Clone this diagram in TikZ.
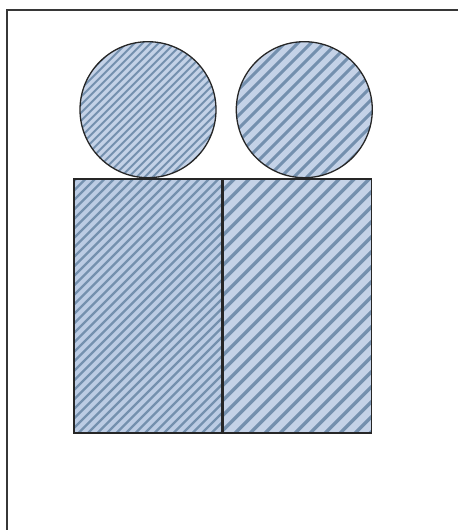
\documentclass[tikz,border=0pt]{standalone}
\usetikzlibrary{positioning}

\definecolor{hatchfill}{RGB}{196,210,231}
\definecolor{hatchfilldark}{RGB}{188,204,228}
\definecolor{hatchline}{RGB}{116,144,174}
\definecolor{framegray}{RGB}{55,55,55}

\tikzset{
  hatched/.style={path picture={
      \foreach \i in {-90,...,40}
        \draw[hatchline, line width=0.2*#1pt+0.3pt] (\i*#1,-200) -- ++(400,400);}},
  blob/.style={draw=black!85, line width=1.3pt, inner sep=0pt},
  box/.style={blob, rectangle, minimum width=148, minimum height=254},
  ball/.style={blob, circle, minimum size=136, fill=hatchfill},
}

\begin{document}
\begin{tikzpicture}[x=1pt, y=1pt]
  \useasboundingbox (0,0) rectangle (458,530);
  % frame, cut at the right and the bottom
  \draw[framegray, line width=1.3pt] (7,0) -- (7,520) -- (458,520);

  \node[box, fill=hatchfilldark, hatched=9.5] (leftbox) at (148,224) {};
  \node[box, fill=hatchfill, hatched=15, right=0pt of leftbox] (rightbox) {};

  \node[ball, hatched=8, above=0pt of leftbox] (leftball) {};
  \node[ball, hatched=13, above=0pt of rightbox, xshift=7] (rightball) {};
\end{tikzpicture}
\end{document}
